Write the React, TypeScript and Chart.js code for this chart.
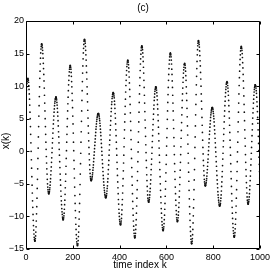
import React, { useEffect, useRef } from 'react';
import { Chart, registerables } from 'chart.js';

Chart.register(...registerables);

const titleText = '(c)';
const xLabel = 'time index k';
const yLabel = 'x(k)';
const xTicks = [0, 200, 400, 600, 800, 1000];
const yTicks = [-15, -10, -5, 0, 5, 10, 15, 20];

// x(k), k = 1 .. 189
const xkA = [
  8.7, 9.4, 9.9, 10.4, 10.7, 11.0, 11.1, 11.2,
  11.1, 10.9, 10.6, 10.1, 9.5, 8.8, 8.0, 7.1, 6.0, 5.0, 3.8, 2.6, 1.3, 0.0, -1.3, -2.6, -3.9, -5.2, -6.4, -7.6, -8.6, -9.7, -10.6, -11.4, -12.1, -12.7, -13.2, -13.5, -13.7, -13.8,
  -13.7, -13.4, -13.0, -12.4, -11.6, -10.7, -9.6, -8.5, -7.2, -5.7, -4.3, -2.7, -1.1, 0.5, 2.2, 3.8, 5.4, 7.0, 8.4, 9.9, 11.2, 12.3, 13.4, 14.3, 15.1, 15.7, 16.1, 16.4, 16.5,
  16.4, 16.2, 15.9, 15.5, 15.0, 14.3, 13.5, 12.7, 11.8, 10.8, 9.7, 8.6, 7.4, 6.2, 5.0, 3.8, 2.6, 1.4, 0.3, -0.8, -1.8, -2.7, -3.5, -4.3, -5.0, -5.5, -5.9, -6.2, -6.4, -6.5,
  -6.5, -6.3, -6.2, -5.9, -5.6, -5.2, -4.7, -4.2, -3.6, -3.0, -2.4, -1.7, -1.0, -0.2, 0.5, 1.3, 2.0, 2.8, 3.5, 4.2, 4.8, 5.4, 6.0, 6.5, 7.0, 7.4, 7.7, 8.0, 8.1, 8.3, 8.3,
  8.3, 8.1, 7.9, 7.5, 7.1, 6.6, 6.0, 5.4, 4.7, 3.9, 3.0, 2.2, 1.3, 0.3, -0.6, -1.6, -2.5, -3.5, -4.4, -5.2, -6.1, -6.9, -7.6, -8.2, -8.8, -9.3, -9.7, -10.1, -10.3, -10.5, -10.5,
  -10.4, -10.2, -9.9, -9.5, -8.9, -8.2, -7.5, -6.6, -5.6, -4.6, -3.5, -2.3, -1.1, 0.1, 1.4, 2.6, 3.8, 5.0, 6.2, 7.3, 8.3, 9.3, 10.2, 10.9, 11.6, 12.2, 12.6, 12.9, 13.1, 13.2,
];

// x(k), k = 190 .. 373
const xkB = [
  13.1, 12.9, 12.6, 12.1, 11.5, 10.7, 9.9, 8.9, 7.8, 6.7, 5.4, 4.2, 2.8, 1.4, 0.1, -1.4, -2.7, -4.1, -5.5, -6.8, -8.0, -9.1, -10.2, -11.2, -12.0, -12.8, -13.4, -13.9, -14.2, -14.4, -14.5,
  -14.4, -14.2, -13.7, -13.1, -12.4, -11.5, -10.4, -9.3, -8.0, -6.6, -5.1, -3.5, -1.9, -0.3, 1.4, 3.0, 4.6, 6.2, 7.8, 9.3, 10.7, 12.0, 13.1, 14.2, 15.1, 15.8, 16.4, 16.9, 17.1, 17.2,
  17.1, 16.9, 16.6, 16.1, 15.5, 14.8, 14.0, 13.1, 12.1, 11.1, 9.9, 8.8, 7.6, 6.3, 5.1, 3.9, 2.8, 1.6, 0.6, -0.4, -1.3, -2.1, -2.8, -3.4, -3.9, -4.2, -4.4, -4.5,
  -4.5, -4.4, -4.3, -4.1, -3.9, -3.6, -3.3, -2.9, -2.5, -2.1, -1.6, -1.1, -0.6, -0.1, 0.4, 0.9, 1.4, 1.9, 2.4, 2.9, 3.4, 3.8, 4.2, 4.6, 4.9, 5.2, 5.4, 5.6, 5.7, 5.8, 5.8,
  5.8, 5.7, 5.5, 5.3, 5.0, 4.7, 4.3, 3.9, 3.4, 2.9, 2.4, 1.8, 1.2, 0.6, 0.0, -0.6, -1.3, -1.9, -2.5, -3.1, -3.7, -4.2, -4.7, -5.2, -5.6, -6.0, -6.3, -6.6, -6.8, -7.0, -7.1, -7.1,
  -7.1, -6.9, -6.8, -6.5, -6.1, -5.7, -5.3, -4.7, -4.2, -3.5, -2.8, -2.1, -1.4, -0.6, 0.2, 1.0, 1.7, 2.5, 3.3, 4.0, 4.7, 5.4, 6.1, 6.6, 7.2, 7.6, 8.1, 8.4, 8.7, 8.8, 9.0, 9.0,
];

// x(k), k = 374 .. 555
const xkC = [
  8.9, 8.8, 8.5, 8.2, 7.7, 7.2, 6.6, 5.8, 5.1, 4.2, 3.3, 2.4, 1.4, 0.4, -0.6, -1.7, -2.7, -3.7, -4.7, -5.6, -6.5, -7.4, -8.1, -8.9, -9.5, -10.0, -10.5, -10.8, -11.1, -11.2, -11.3,
  -11.2, -11.0, -10.7, -10.3, -9.7, -9.0, -8.2, -7.4, -6.4, -5.3, -4.2, -3.0, -1.8, -0.6, 0.7, 2.0, 3.3, 4.5, 5.7, 6.9, 8.0, 9.1, 10.1, 10.9, 11.7, 12.4, 13.0, 13.4, 13.7, 13.9, 14.0,
  13.9, 13.7, 13.3, 12.8, 12.2, 11.4, 10.5, 9.5, 8.4, 7.2, 5.9, 4.6, 3.2, 1.8, 0.3, -1.1, -2.5, -3.9, -5.2, -6.5, -7.7, -8.8, -9.8, -10.7, -11.5, -12.1, -12.6, -13.0, -13.2, -13.3,
  -13.2, -13.0, -12.6, -12.0, -11.3, -10.5, -9.5, -8.4, -7.2, -5.9, -4.5, -3.1, -1.6, -0.1, 1.4, 3.0, 4.5, 6.0, 7.5, 8.8, 10.1, 11.3, 12.4, 13.4, 14.2, 14.9, 15.5, 15.9, 16.1, 16.2,
  16.1, 15.9, 15.6, 15.1, 14.5, 13.8, 12.9, 12.0, 10.9, 9.8, 8.6, 7.4, 6.1, 4.8, 3.6, 2.3, 1.0, -0.2, -1.4, -2.5, -3.6, -4.5, -5.4, -6.1, -6.7, -7.2, -7.5, -7.7, -7.8,
  -7.8, -7.6, -7.4, -7.1, -6.7, -6.2, -5.7, -5.0, -4.4, -3.6, -2.8, -2.0, -1.2, -0.3, 0.6, 1.5, 2.4, 3.3, 4.1, 4.9, 5.7, 6.5, 7.1, 7.8, 8.3, 8.8, 9.2, 9.5, 9.7, 9.9, 9.9,
];

// x(k), k = 556 .. 737
const xkD = [
  9.8, 9.7, 9.4, 9.0, 8.5, 7.9, 7.2, 6.5, 5.6, 4.7, 3.7, 2.7, 1.6, 0.5, -0.6, -1.7, -2.8, -3.9, -5.0, -6.0, -7.0, -7.9, -8.8, -9.5, -10.2, -10.8, -11.3, -11.7, -12.0, -12.1, -12.2,
  -12.1, -11.9, -11.6, -11.1, -10.5, -9.8, -8.9, -8.0, -6.9, -5.8, -4.6, -3.3, -2.0, -0.6, 0.8, 2.1, 3.5, 4.9, 6.2, 7.5, 8.7, 9.8, 10.9, 11.8, 12.7, 13.4, 14.0, 14.5, 14.8, 15.0, 15.1,
  15.0, 14.8, 14.5, 14.0, 13.4, 12.6, 11.8, 10.8, 9.8, 8.6, 7.4, 6.2, 4.8, 3.5, 2.1, 0.8, -0.5, -1.9, -3.1, -4.3, -5.5, -6.5, -7.5, -8.3, -9.1, -9.7, -10.2, -10.5, -10.7, -10.8,
  -10.7, -10.6, -10.2, -9.8, -9.3, -8.6, -7.9, -7.0, -6.1, -5.1, -4.0, -2.9, -1.7, -0.5, 0.7, 2.0, 3.2, 4.4, 5.6, 6.7, 7.8, 8.8, 9.7, 10.6, 11.3, 12.0, 12.5, 12.9, 13.3, 13.4, 13.5,
  13.4, 13.2, 12.8, 12.3, 11.6, 10.9, 9.9, 8.9, 7.8, 6.6, 5.3, 3.9, 2.5, 1.1, -0.3, -1.8, -3.2, -4.6, -6.0, -7.3, -8.5, -9.6, -10.6, -11.6, -12.3, -13.0, -13.5, -13.9, -14.1, -14.2,
  -14.1, -13.8, -13.4, -12.8, -12.0, -11.0, -9.9, -8.7, -7.4, -5.9, -4.4, -2.8, -1.1, 0.6, 2.2, 3.9, 5.6, 7.2, 8.7, 10.2, 11.5, 12.7, 13.8, 14.8, 15.6, 16.2, 16.6, 16.9, 17.0,
];

// x(k), k = 738 .. 920
const xkE = [
  16.9, 16.7, 16.4, 16.0, 15.4, 14.7, 13.9, 13.1, 12.1, 11.1, 10.0, 8.8, 7.7, 6.5, 5.2, 4.0, 2.9, 1.7, 0.6, -0.4, -1.4, -2.2, -3.0, -3.7, -4.3, -4.7, -5.0, -5.2, -5.3,
  -5.3, -5.2, -5.0, -4.8, -4.5, -4.2, -3.8, -3.3, -2.8, -2.3, -1.7, -1.2, -0.5, 0.1, 0.7, 1.3, 1.9, 2.6, 3.1, 3.7, 4.2, 4.7, 5.2, 5.6, 5.9, 6.2, 6.4, 6.6, 6.7, 6.7,
  6.7, 6.6, 6.4, 6.1, 5.8, 5.4, 5.0, 4.5, 3.9, 3.3, 2.7, 2.0, 1.3, 0.6, -0.1, -0.8, -1.6, -2.3, -3.0, -3.7, -4.4, -5.0, -5.6, -6.2, -6.7, -7.1, -7.5, -7.8, -8.1, -8.3, -8.4, -8.4,
  -8.3, -8.2, -8.0, -7.6, -7.2, -6.7, -6.1, -5.4, -4.7, -3.9, -3.1, -2.2, -1.2, -0.3, 0.7, 1.6, 2.6, 3.5, 4.5, 5.4, 6.2, 7.0, 7.7, 8.4, 9.0, 9.5, 9.9, 10.3, 10.5, 10.6, 10.7,
  10.6, 10.5, 10.1, 9.7, 9.2, 8.6, 7.8, 7.0, 6.1, 5.1, 4.0, 2.9, 1.7, 0.6, -0.6, -1.9, -3.1, -4.2, -5.4, -6.5, -7.6, -8.6, -9.5, -10.3, -11.1, -11.7, -12.2, -12.6, -13.0, -13.1, -13.2,
  -13.1, -12.9, -12.5, -11.9, -11.2, -10.4, -9.4, -8.4, -7.2, -5.9, -4.5, -3.1, -1.6, -0.1, 1.4, 3.0, 4.5, 6.0, 7.4, 8.8, 10.1, 11.3, 12.3, 13.3, 14.1, 14.8, 15.4, 15.8, 16.0, 16.1,
];

// x(k), k = 921 .. 1000
const xkF = [
  16.0, 15.8, 15.5, 15.0, 14.4, 13.6, 12.8, 11.8, 10.8, 9.7, 8.5, 7.2, 6.0, 4.7, 3.3, 2.0, 0.8, -0.5, -1.7, -2.8, -3.8, -4.8, -5.6, -6.4, -7.0, -7.5, -7.8, -8.0, -8.1,
  -8.1, -7.9, -7.7, -7.4, -7.0, -6.5, -5.9, -5.3, -4.5, -3.8, -3.0, -2.1, -1.2, -0.3, 0.6, 1.5, 2.4, 3.3, 4.2, 5.1, 5.9, 6.6, 7.4, 8.0, 8.6, 9.1, 9.5, 9.8, 10.0, 10.2, 10.2,
  10.1, 10.0, 9.7, 9.3, 8.9, 8.3, 7.6, 6.9, 6.1, 5.2, 4.3, 3.3, 2.3, 1.2, 0.1, -0.9, -2.0, -3.1, -4.1, -5.1,
];

const xk = [...xkA, ...xkB, ...xkC, ...xkD, ...xkE, ...xkF];

const FONT = '"Liberation Sans", Arial, Helvetica, sans-serif';

export default function App() {
  const ref = useRef<HTMLCanvasElement>(null);

  useEffect(() => {
    const canvas = ref.current;
    if (!canvas) return;

    const framePlugin = {
      id: 'matlabFrame',
      afterDraw(chart: any) {
        const { ctx, chartArea: a, scales } = chart;
        const L = Math.round(a.left) + 0.5;
        const R = Math.round(a.right) - 0.5;
        const T = Math.round(a.top) + 0.5;
        const B = Math.round(a.bottom) - 0.5;
        ctx.save();
        ctx.strokeStyle = '#000';
        ctx.lineWidth = 1;
        ctx.beginPath();
        ctx.rect(L, T, R - L, B - T);
        const tl = 3;
        for (const t of xTicks) {
          const px = Math.round(scales.x.getPixelForValue(t)) + 0.5;
          ctx.moveTo(px, B);
          ctx.lineTo(px, B - tl);
          ctx.moveTo(px, T);
          ctx.lineTo(px, T + tl);
        }
        for (const t of yTicks) {
          const py = Math.round(scales.y.getPixelForValue(t)) + 0.5;
          ctx.moveTo(L, py);
          ctx.lineTo(L + tl, py);
          ctx.moveTo(R, py);
          ctx.lineTo(R - tl, py);
        }
        ctx.stroke();

        ctx.fillStyle = '#000';
        ctx.textAlign = 'center';
        ctx.textBaseline = 'middle';
        ctx.font = `10px ${FONT}`;
        ctx.fillText(titleText, (a.left + a.right) / 2, 8);
        ctx.fillText(xLabel, 140, 265.5);
        ctx.translate(6.5, 141);
        ctx.rotate(-Math.PI / 2);
        ctx.fillText(yLabel, 0, 0);
        ctx.restore();
      },
    };

    const chart = new Chart(canvas, {
      type: 'scatter',
      data: {
        datasets: [
          {
            data: xk.map((v, i) => ({ x: i + 1, y: v })),
            pointRadius: 0.85,
            pointHoverRadius: 0.85,
            pointBackgroundColor: '#111',
            pointBorderWidth: 0,
            showLine: false,
          },
        ],
      },
      options: {
        responsive: false,
        animation: false,
        devicePixelRatio: 1,
        layout: { padding: { top: 21, right: 11, left: 0, bottom: 0 } },
        plugins: {
          legend: { display: false },
          title: { display: false },
          tooltip: { enabled: false },
        },
        scales: {
          x: {
            type: 'linear',
            min: 0,
            max: 1000,
            afterBuildTicks: (scale: any) => {
              scale.ticks = xTicks.map((v) => ({ value: v }));
            },
            afterFit: (scale: any) => {
              scale.height = 24;
            },
            grid: { display: false, drawTicks: false },
            border: { display: false },
            ticks: {
              color: '#000',
              font: { family: FONT, size: 9 },
              padding: 3,
              maxRotation: 0,
              autoSkip: false,
              callback: (v: any) => String(v),
            },
          },
          y: {
            type: 'linear',
            min: -15,
            max: 20,
            afterBuildTicks: (scale: any) => {
              scale.ticks = yTicks.map((v) => ({ value: v }));
            },
            afterFit: (scale: any) => {
              scale.width = 26;
            },
            grid: { display: false, drawTicks: false },
            border: { display: false },
            ticks: {
              color: '#000',
              font: { family: FONT, size: 9 },
              padding: 2,
              autoSkip: false,
              callback: (v: any) => String(v).replace('-', '\u2212'),
            },
          },
        },
      },
      plugins: [framePlugin],
    });

    return () => chart.destroy();
  }, []);

  return (
    <div style={{ position: 'fixed', left: 0, top: 0, width: 273, height: 273, background: '#fff' }}>
      <canvas ref={ref} width={273} height={273} style={{ display: 'block' }} />
    </div>
  );
}
